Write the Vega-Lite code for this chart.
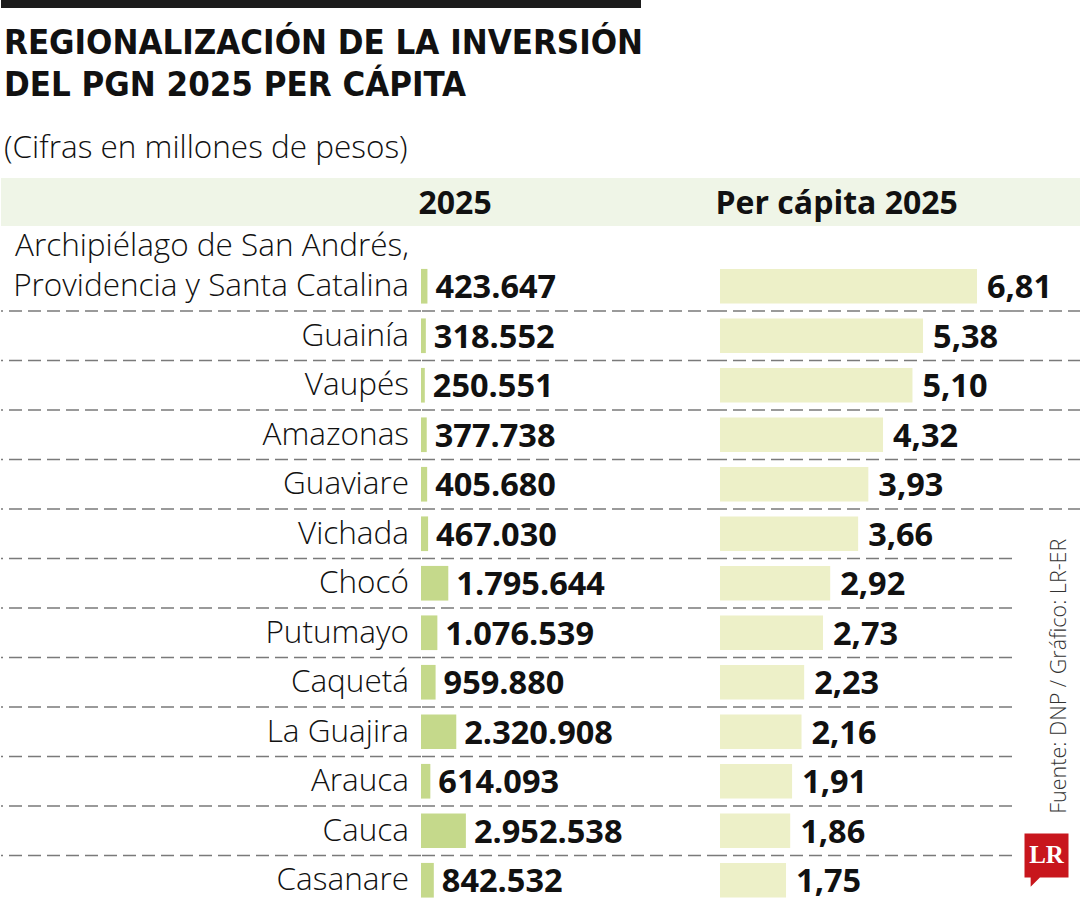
{
  "$schema": "https://vega.github.io/schema/vega-lite/v6.json",
  "padding": 0,
  "autosize": {"type": "pad"},
  "background": "white",
  "datasets": {
    "dep": [
      {"rank": 1, "name": "Archipiélago de San Andrés,\nProvidencia y Santa Catalina", "v2025": 423647, "percapita": 6.81},
      {"rank": 2, "name": "Guainía", "v2025": 318552, "percapita": 5.38},
      {"rank": 3, "name": "Vaupés", "v2025": 250551, "percapita": 5.10},
      {"rank": 4, "name": "Amazonas", "v2025": 377738, "percapita": 4.32},
      {"rank": 5, "name": "Guaviare", "v2025": 405680, "percapita": 3.93},
      {"rank": 6, "name": "Vichada", "v2025": 467030, "percapita": 3.66},
      {"rank": 7, "name": "Chocó", "v2025": 1795644, "percapita": 2.92},
      {"rank": 8, "name": "Putumayo", "v2025": 1076539, "percapita": 2.73},
      {"rank": 9, "name": "Caquetá", "v2025": 959880, "percapita": 2.23},
      {"rank": 10, "name": "La Guajira", "v2025": 2320908, "percapita": 2.16},
      {"rank": 11, "name": "Arauca", "v2025": 614093, "percapita": 1.91},
      {"rank": 12, "name": "Cauca", "v2025": 2952538, "percapita": 1.86},
      {"rank": 13, "name": "Casanare", "v2025": 842532, "percapita": 1.75}
    ]
  },
  "config": {
    "view": {"stroke": null},
    "locale": {"number": {"decimal": ",", "thousands": ".", "grouping": [3], "currency": ["$", ""]}}
  },
  "bounds": "flush",
  "spacing": 170,
  "vconcat": [
    {
      "width": 640,
      "height": 8,
      "view": {"fill": "#1c1c1c", "stroke": null},
      "data": {"values": [{}]},
      "mark": {"type": "rect", "opacity": 0},
      "encoding": {}
    },
    {
      "bounds": "flush",
      "spacing": 35.5,
      "vconcat": [
        {
          "width": 1080,
          "height": 48,
          "view": {"fill": "#eff5e7", "stroke": null},
          "title": {
            "text": ["REGIONALIZACIÓN DE LA INVERSIÓN", "DEL PGN 2025 PER CÁPITA"],
            "subtitle": "(Cifras en millones de pesos)",
            "anchor": "start",
            "frame": "group",
            "dx": 3,
            "font": "'Liberation Sans Narrow', 'DejaVu Sans Condensed', sans-serif",
            "fontSize": 34.5,
            "fontWeight": "bold",
            "lineHeight": 42,
            "color": "#111111",
            "subtitleFont": "Open Sans",
            "subtitleFontSize": 31.5,
            "subtitleFontWeight": 300,
            "subtitleColor": "#111111",
            "subtitlePadding": 29,
            "offset": 13
          },
          "data": {"values": [{}]},
          "mark": {"type": "rect", "opacity": 0},
          "encoding": {}
        },
        {
          "bounds": "flush",
          "spacing": 0,
          "resolve": {"scale": {"y": "shared"}},
          "hconcat": [
            {
              "width": 420,
              "height": 643.5,
              "data": {"name": "dep"},
              "mark": {"type": "rule", "color": "#7a7a7a", "strokeWidth": 1.5, "strokeDash": [13, 6]},
              "encoding": {
                "y": {"field": "name", "type": "nominal", "sort": null, "bandPosition": 0, "axis": null,
                      "scale": {"paddingInner": 0, "paddingOuter": 0}},
                "strokeOpacity": {"condition": {"test": "datum.rank == 1", "value": 0}, "value": 1}
              }
            },
            {
              "width": 299,
              "height": 643.5,
              "data": {"name": "dep"},
              "layer": [
                {
                  "mark": {"type": "rule", "color": "#7a7a7a", "strokeWidth": 1.5, "strokeDash": [13, 6]},
                  "encoding": {
                    "y": {"field": "name", "type": "nominal", "sort": null, "bandPosition": 0, "axis": null},
                    "strokeOpacity": {"condition": {"test": "datum.rank == 1", "value": 0}, "value": 1}
                  }
                },
                {
                  "mark": {"type": "bar", "color": "#c5d98b", "height": {"band": 0.7}},
                  "encoding": {
                    "y": {"field": "name", "type": "nominal", "sort": null, "axis": null},
                    "x": {"field": "v2025", "type": "quantitative", "scale": {"domain": [0, 19670000], "nice": false, "zero": true},
                          "axis": {"orient": "top", "title": "2025", "labels": false, "ticks": false, "domain": false, "grid": false,
                                   "titleAnchor": "start", "titleAlign": "left", "titleBaseline": "alphabetic", "titlePadding": 48,
                                   "titleX": -3,
                                   "minExtent": 0, "maxExtent": 0, "titleFont": "Open Sans", "titleFontSize": 32,
                                   "titleFontWeight": "bold", "titleColor": "#111111"}}
                  }
                },
                {
                  "mark": {"type": "text", "align": "left", "baseline": "alphabetic", "dx": 8, "dy": 12,
                           "font": "Open Sans", "fontWeight": "bold", "fontSize": 32.5, "color": "#111111"},
                  "encoding": {
                    "y": {"field": "name", "type": "nominal", "sort": null, "axis": null},
                    "x": {"field": "v2025", "type": "quantitative"},
                    "text": {"field": "v2025", "type": "quantitative", "format": ",d"}
                  }
                },
                {
                  "transform": [{"filter": "datum.rank > 1"}],
                  "mark": {"type": "text", "align": "right", "baseline": "bottom", "dx": -12, "dy": 17,
                           "font": "Open Sans", "fontWeight": 300, "fontSize": 31.5, "color": "#111111"},
                  "encoding": {
                    "y": {"field": "name", "type": "nominal", "sort": null, "axis": null},
                    "x": {"datum": 0, "type": "quantitative"},
                    "text": {"field": "name", "type": "nominal"}
                  }
                },
                {
                  "transform": [{"filter": "datum.rank == 1"}],
                  "mark": {"type": "text", "align": "right", "baseline": "bottom", "dx": -12, "dy": -23,
                           "lineBreak": "\n", "lineHeight": 40,
                           "font": "Open Sans", "fontWeight": 300, "fontSize": 31.5, "color": "#111111"},
                  "encoding": {
                    "y": {"field": "name", "type": "nominal", "sort": null, "axis": null},
                    "x": {"datum": 0, "type": "quantitative"},
                    "text": {"field": "name", "type": "nominal"}
                  }
                }
              ]
            },
            {
              "width": 292,
              "height": 643.5,
              "data": {"name": "dep"},
              "layer": [
                {
                  "mark": {"type": "rule", "color": "#7a7a7a", "strokeWidth": 1.5, "strokeDash": [13, 6]},
                  "encoding": {
                    "y": {"field": "name", "type": "nominal", "sort": null, "bandPosition": 0, "axis": null},
                    "strokeOpacity": {"condition": {"test": "datum.rank == 1", "value": 0}, "value": 1}
                  }
                },
                {
                  "mark": {"type": "bar", "color": "#edf0c8", "height": {"band": 0.7}},
                  "encoding": {
                    "y": {"field": "name", "type": "nominal", "sort": null, "axis": null},
                    "x": {"field": "percapita", "type": "quantitative", "scale": {"domain": [0, 7.737], "nice": false, "zero": true},
                          "axis": {"orient": "top", "title": "Per cápita 2025", "labels": false, "ticks": false, "domain": false, "grid": false,
                                   "titleAnchor": "start", "titleAlign": "left", "titleBaseline": "alphabetic", "titlePadding": 48,
                                   "titleX": -5,
                                   "minExtent": 0, "maxExtent": 0, "titleFont": "Open Sans", "titleFontSize": 32,
                                   "titleFontWeight": "bold", "titleColor": "#111111"}}
                  }
                },
                {
                  "mark": {"type": "text", "align": "left", "baseline": "alphabetic", "dx": 10, "dy": 12,
                           "font": "Open Sans", "fontWeight": "bold", "fontSize": 32.5, "color": "#111111"},
                  "encoding": {
                    "y": {"field": "name", "type": "nominal", "sort": null, "axis": null},
                    "x": {"field": "percapita", "type": "quantitative"},
                    "text": {"field": "percapita", "type": "quantitative", "format": ".2f"}
                  }
                }
              ]
            },
            {
              "width": 69,
              "height": 643.5,
              "data": {"name": "dep"},
              "layer": [
                {
                  "mark": {"type": "rule", "color": "#7a7a7a", "strokeWidth": 1.5, "strokeDash": [13, 6]},
                  "encoding": {
                    "y": {"field": "name", "type": "nominal", "sort": null, "bandPosition": 0, "axis": null},
                    "strokeOpacity": {"condition": {"test": "datum.rank == 1 || datum.rank > 6", "value": 0}, "value": 1}
                  }
                },
                {
                  "data": {"values": [{"src": "Fuente: DNP / Gráfico: LR-ER"}]},
                  "mark": {"type": "text", "angle": 270, "align": "center", "baseline": "middle", "dx": 6, "dy": 13.5,
                           "font": "Open Sans", "fontWeight": 300, "fontSize": 21.5, "color": "#333333"},
                  "encoding": {
                    "y": {"datum": "Caquetá", "type": "nominal", "axis": null},
                    "text": {"field": "src", "type": "nominal"}
                  }
                },
                {
                  "data": {"values": [{"logo": "LR"}]},
                  "mark": {"type": "point", "filled": true, "opacity": 1, "color": "#c8161d", "size": 1936,
                           "shape": "M-1,-1L1,-1L1,1L-0.3,1L-0.72,1.42L-0.72,1L-1,1Z"},
                  "encoding": {
                    "y": {"datum": "Casanare", "type": "nominal", "bandPosition": 0, "axis": null}
                  }
                },
                {
                  "data": {"values": [{"logo": "LR"}]},
                  "mark": {"type": "text", "align": "center", "baseline": "middle", "dy": -1,
                           "font": "Liberation Serif", "fontWeight": "bold", "fontSize": 25, "color": "white"},
                  "encoding": {
                    "y": {"datum": "Casanare", "type": "nominal", "bandPosition": 0, "axis": null},
                    "text": {"field": "logo", "type": "nominal"}
                  }
                }
              ]
            }
          ]
        }
      ]
    }
  ]
}
